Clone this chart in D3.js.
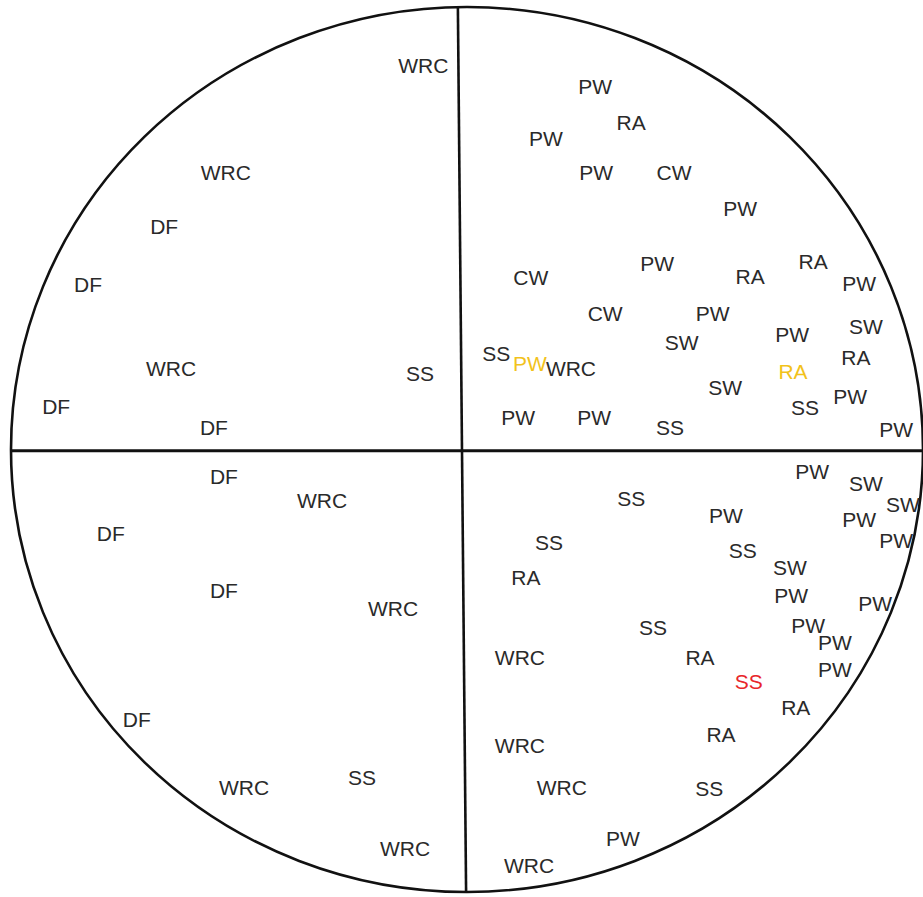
<!DOCTYPE html>
<html>
<head>
<meta charset="utf-8">
<script src="https://cdn.jsdelivr.net/npm/d3@7"></script>
<style>
  html, body { margin: 0; padding: 0; background: #fff; }
  svg { display: block; }
</style>
</head>
<body>
<svg id="chart" width="923" height="897"></svg>
<script>
// Species labels plotted in a unit circle (x, y in -100..100)
const labels = [
  "WRC","WRC","DF","DF","WRC","SS","DF","DF",
  "PW","RA","PW","PW","CW","PW","PW","RA","CW","RA","PW","CW","PW","SW","PW","SW",
  "SS","PW","WRC","RA","RA","SW","PW","SS","PW","PW","SS","PW",
  "PW","SW","SS","SW","PW","PW","PW","SS","SS","SW","RA","PW","PW","PW","SS","PW",
  "RA","WRC","PW","SS","RA","RA","WRC","WRC","SS","PW","WRC",
  "DF","WRC","DF","DF","WRC","DF","SS","WRC","WRC"
];
const xs = [
  -9.6,-52.9,-66.4,-83.1,-64.9,-10.3,-90.1,-55.5,
  28.1,36.0,17.3,28.3,45.4,59.9,41.7,75.9,14.0,62.1,86.0,30.3,53.9,87.5,71.3,47.1,
  6.4,13.8,22.8,85.3,71.5,56.6,84.0,74.1,11.2,27.9,44.5,94.1,
  75.7,87.5,36.0,95.6,56.8,86.0,94.1,18.0,60.5,70.8,12.9,71.1,89.5,74.8,40.8,80.7,
  51.1,11.6,80.7,61.8,72.1,55.7,11.6,20.8,53.1,34.2,13.6,
  -53.3,-31.8,-78.1,-53.3,-16.2,-72.4,-23.0,-48.9,-13.6
];
const ys = [
  86.9,62.7,50.3,37.2,18.4,17.3,9.8,4.9,
  82.1,74.0,70.2,62.5,62.5,54.4,42.1,42.4,38.8,39.2,37.6,30.8,30.8,27.9,25.9,24.1,
  21.8,19.5,18.4,20.7,17.7,14.1,11.9,9.6,7.3,7.3,4.9,4.6,
  -4.9,-7.6,-11.0,-12.5,-14.8,-15.9,-20.5,-21.1,-22.7,-26.6,-29.0,-32.9,-34.9,-39.7,-40.3,-43.5,
  -46.9,-47.1,-49.8,-52.5,-58.2,-64.5,-66.8,-76.3,-76.7,-88.0,-93.9,
  -6.2,-11.4,-18.9,-31.8,-36.0,-60.9,-74.0,-76.3,-90.1
];
// highlighted entries (index -> group)
const highlightIndex = [25, 28, 55];
const highlightGroup = ["yellow", "yellow", "red"];
const groups = ["normal", "yellow", "red"];
// quadrant dividers (ends of vertical divider in x units, horizontal at y)
const vDividerX = [-2.0, -0.2];
const hDividerY = -0.3;

const svg = d3.select("#chart");
const x = d3.scaleLinear().domain([-100, 100]).range([11, 923]);
const y = d3.scaleLinear().domain([-100, 100]).range([892, 7]);
const color = d3.scaleOrdinal().domain(groups).range(["#2a2a2a", "#f2c21b", "#e8262b"]);

const data = labels.map((t, i) => {
  const h = highlightIndex.indexOf(i);
  return { t, x: xs[i], y: ys[i], g: h >= 0 ? highlightGroup[h] : "normal" };
});

// circle
svg.append("ellipse")
  .attr("cx", x(0)).attr("cy", y(0))
  .attr("rx", x(100) - x(0)).attr("ry", y(-100) - y(0))
  .attr("fill", "none").attr("stroke", "#111").attr("stroke-width", 2.6);

// dividers
svg.append("line")
  .attr("x1", x(vDividerX[0])).attr("y1", y(100))
  .attr("x2", x(vDividerX[1])).attr("y2", y(-100))
  .attr("stroke", "#111").attr("stroke-width", 2.6);
svg.append("line")
  .attr("x1", x(-100)).attr("y1", y(hDividerY))
  .attr("x2", x(100)).attr("y2", y(hDividerY))
  .attr("stroke", "#111").attr("stroke-width", 3);

// labels
svg.append("g").selectAll("text").data(data).join("text")
  .attr("x", d => x(d.x)).attr("y", d => y(d.y))
  .attr("dy", "0.36em")
  .attr("text-anchor", "middle")
  .attr("font-family", "'Liberation Sans', Arial, Helvetica, sans-serif")
  .attr("font-size", 21)
  .attr("fill", d => color(d.g))
  .text(d => d.t);
</script>
</body>
</html>
